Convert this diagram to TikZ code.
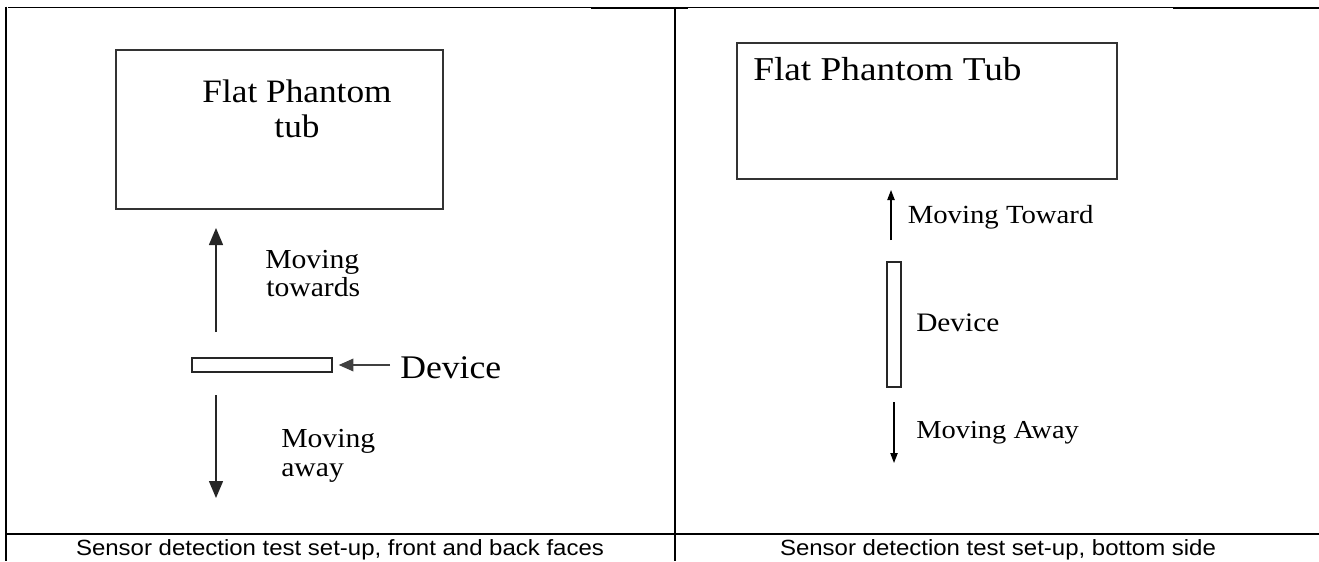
\documentclass[tikz,border=0pt]{standalone}
\usepackage{fontspec}
\setmainfont{Liberation Serif}
\setsansfont{Liberation Sans}
\usetikzlibrary{arrows.meta}
\begin{document}
\begin{tikzpicture}[x=0.75pt,y=-0.75pt,
  frame/.style={line width=1.5pt,black},
  framethin/.style={line width=0.8pt,black},
  tubbox/.style={draw=black!80,line width=0.8pt,inner sep=0pt,rectangle},
  devbox/.style={draw=black!85,line width=1.1pt,inner sep=0pt,rectangle},
  lbl/.style={inner sep=0pt,anchor=base west,text=black},
  bigarrow/.style={line width=1.1pt,black!85,-{Triangle[length=12.75pt,width=10.5pt]}},
  ptrarrow/.style={line width=1.1pt,black!75,-{Triangle[length=11pt,width=9.5pt]}},
  smallarrow/.style={line width=0.9pt,black,-{Triangle[length=7.5pt,width=5.5pt]}},
  captext/.style={inner sep=0pt,anchor=base,font=\sffamily\fontsize{16.5pt}{19pt}\selectfont}
]
\useasboundingbox (0,0) rectangle (1319,561);
% table frame
\draw[framethin] (8,7.5) -- (591,7.5);
\draw[frame] (591,7.5) -- (688,7.5);
\draw[framethin] (688,7.5) -- (1173,7.5);
\draw[frame] (1173,7.5) -- (1319,7.5);
\draw[frame] (6,6.5) -- (6,561);
\draw[frame] (675,7.5) -- (675,561);
\draw[frame] (5,534) -- (1319,534);

% ---------- left panel ----------
\node[tubbox,minimum width=245.25pt,minimum height=119.25pt] (tubL) at (279.5,129.5) {};
\node[inner sep=0pt,anchor=base,font=\fontsize{24.5pt}{29pt}\selectfont] (tubLa) at (297,102) {\scalebox{1.08}[1]{Flat Phantom}};
\node[inner sep=0pt,anchor=base,font=\fontsize{24.5pt}{29pt}\selectfont] (tubLb) at (297,137) {\scalebox{1.08}[1]{tub}};

\coordinate (upLb) at (216,332);
\coordinate (upLt) at (216,228);
\draw[bigarrow] (upLb) -- (upLt);
\node[lbl,font=\fontsize{20.6pt}{24pt}\selectfont] (movL1) at (265,268) {\scalebox{1.08}[1]{Moving}};
\node[lbl,font=\fontsize{20.6pt}{24pt}\selectfont] (towL) at (266,296) {\scalebox{1.08}[1]{towards}};

\node[devbox,minimum width=105pt,minimum height=10.5pt] (devL) at (262,365) {};
\node[lbl,font=\fontsize{24.75pt}{29pt}\selectfont] (devLlbl) at (400,378) {\scalebox{1.08}[1]{Device}};
\coordinate (ptrT) at (390,365);
\draw[ptrarrow] (ptrT) -- ([xshift=4.5pt]devL.east);

\coordinate (dnLt) at (216,395);
\coordinate (dnLb) at (216,498);
\draw[bigarrow] (dnLt) -- (dnLb);
\node[lbl,font=\fontsize{20.6pt}{24pt}\selectfont] (movL2) at (281,447) {\scalebox{1.08}[1]{Moving}};
\node[lbl,font=\fontsize{20.6pt}{24pt}\selectfont] (awayL) at (281,476) {\scalebox{1.08}[1]{away}};

\node[captext] (capL) at (340,555) {\scalebox{1.09}[1]{Sensor detection test set-up, front and back faces}};

% ---------- right panel ----------
\node[tubbox,minimum width=285pt,minimum height=102pt] (tubR) at (927,111) {};
\node[lbl,font=\fontsize{25pt}{30pt}\selectfont] (tubRlbl) at (753,80) {\scalebox{1.12}[1]{Flat Phantom Tub}};

\coordinate (upRb) at (891,240);
\coordinate (upRt) at (891,190);
\draw[smallarrow] (upRb) -- (upRt);
\node[lbl,font=\fontsize{19.6pt}{23pt}\selectfont] (towR) at (907.5,223) {\scalebox{1.1}[1]{Moving Toward}};

\node[devbox,minimum width=10.5pt,minimum height=93.75pt] (devR) at (894,324.5) {};
\node[lbl,font=\fontsize{20pt}{24pt}\selectfont] (devRlbl) at (916,331) {\scalebox{1.1}[1]{Device}};

\coordinate (dnRt) at (894,402);
\coordinate (dnRb) at (894,463);
\draw[smallarrow] (dnRt) -- (dnRb);
\node[lbl,font=\fontsize{19.4pt}{23pt}\selectfont] (awayR) at (916,438) {\scalebox{1.1}[1]{Moving Away}};

\node[captext] (capR) at (998,555) {\scalebox{1.09}[1]{Sensor detection test set-up, bottom side}};
\end{tikzpicture}
\end{document}
